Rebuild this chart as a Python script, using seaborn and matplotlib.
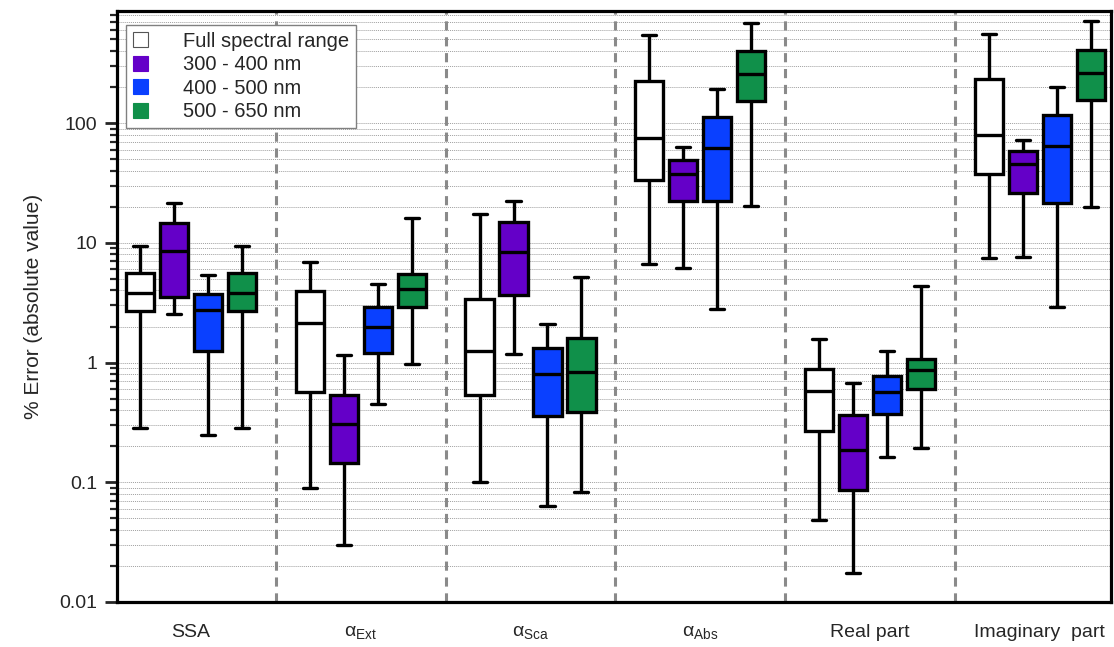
import numpy as np
import pandas as pd
import matplotlib
matplotlib.use("Agg")
import matplotlib.pyplot as plt
import seaborn as sns
from matplotlib.patches import Patch
from matplotlib.ticker import FixedLocator, FixedFormatter, LogLocator, NullFormatter

# ---------------- data ----------------
categories = ["SSA", "Ext", "Sca", "Abs", "Real part", "Imaginary  part"]
tick_labels = ["SSA", r"$\mathrm{\alpha_{Ext}}$", r"$\mathrm{\alpha_{Sca}}$",
               r"$\mathrm{\alpha_{Abs}}$", "Real part", "Imaginary  part"]
bands = ["Full spectral range", "300 - 400 nm", "400 - 500 nm", "500 - 650 nm"]
band_colors = ["#FFFFFF", "#6400C8", "#0A40FF", "#10904A"]

# each row: one category; each column: one band (Full, 300-400, 400-500, 500-650)
whisker_low = [[0.285, 2.52, 0.248, 0.285],
               [0.09, 0.03, 0.447, 0.97],
               [0.101, 1.17, 0.063, 0.0824],
               [6.72, 6.17, 2.82, 20.3],
               [0.0486, 0.0173, 0.163, 0.193],
               [7.44, 7.59, 2.91, 19.8]]
quartile1 = [[2.68, 3.55, 1.26, 2.68],
             [0.564, 0.145, 1.21, 2.93],
             [0.532, 3.67, 0.357, 0.386],
             [33.8, 22.2, 22.2, 154],
             [0.267, 0.0857, 0.369, 0.598],
             [37.9, 26.2, 21.4, 157]]
median = [[3.84, 8.5, 2.74, 3.84],
          [2.12, 0.304, 1.99, 4.12],
          [1.25, 8.4, 0.809, 0.835],
          [75, 37.7, 61.4, 255],
          [0.575, 0.187, 0.564, 0.869],
          [78.9, 45.4, 63.8, 263]]
quartile3 = [[5.57, 14.7, 3.74, 5.57],
             [3.96, 0.532, 2.91, 5.5],
             [3.39, 14.9, 1.32, 1.61],
             [227, 49.6, 113, 402],
             [0.891, 0.366, 0.778, 1.08],
             [234, 58.3, 117, 412]]
whisker_high = [[9.4, 21.6, 5.36, 9.4],
                [6.89, 1.15, 4.56, 16.0],
                [17.5, 22.2, 2.08, 5.19],
                [540, 63.4, 193, 681],
                [1.58, 0.68, 1.26, 4.36],
                [558, 72.6, 201, 708]]

y_major = [0.01, 0.1, 1, 10, 100]
y_major_labels = ["0.01", "0.1", "1", "10", "100"]

# build long table: five values per box reproduce min / quartiles / median / max
rows = []
for ci, cat in enumerate(categories):
    for bi, band in enumerate(bands):
        for stat in (whisker_low, quartile1, median, quartile3, whisker_high):
            rows.append({"category": cat, "band": band, "value": stat[ci][bi]})
df = pd.DataFrame(rows)

# ---------------- style ----------------
sns.set_style("ticks")
plt.rcParams["font.family"] = ["Liberation Sans", "DejaVu Sans"]
plt.rcParams["mathtext.fontset"] = "custom"
plt.rcParams["mathtext.rm"] = "Liberation Sans"
plt.rcParams["mathtext.it"] = "Liberation Sans:italic"
plt.rcParams["mathtext.bf"] = "Liberation Sans:bold"

fig = plt.figure(figsize=(11.14, 6.47), dpi=100)
ax = fig.add_axes([0.105, 0.0696, 0.8925, 0.913])

sns.boxplot(data=df, x="category", y="value", hue="band",
            order=categories, hue_order=bands, palette=band_colors,
            saturation=1, whis=(0, 100), width=0.8, gap=0.17,
            linewidth=2.4, linecolor="black", fliersize=0,
            log_scale=True, legend=False, ax=ax, zorder=3)

ax.set_ylim(0.01, 860)
ax.set_xlim(-0.436, 5.421)

# separators between groups
for i in range(len(categories) - 1):
    ax.axvline(i + 0.5, color="#8a8a8a", linewidth=2.2,
               linestyle=(0, (3.0, 2.2)), zorder=1)

# y ticks & grid
ax.yaxis.set_major_locator(FixedLocator(y_major))
ax.yaxis.set_major_formatter(FixedFormatter(y_major_labels))
ax.yaxis.set_minor_locator(LogLocator(base=10, subs=np.arange(2, 10)))
ax.yaxis.set_minor_formatter(NullFormatter())
ax.tick_params(axis="y", which="major", direction="out", length=9, width=2,
               labelsize=14, pad=5)
ax.tick_params(axis="y", which="minor", direction="out", length=5, width=1.6)
ax.grid(axis="y", which="both", color="#a0a0a0", linestyle=(0, (1, 1)),
        linewidth=0.7, zorder=0)
ax.set_axisbelow(True)

ax.set_xticks(range(len(categories)))
ax.set_xticklabels(tick_labels, fontsize=14)
ax.tick_params(axis="x", length=0, pad=16)

ax.set_xlabel("")
ax.set_ylabel("% Error (absolute value)", fontsize=15, labelpad=12)

for sp in ax.spines.values():
    sp.set_visible(True)
    sp.set_linewidth(2.3)
    sp.set_color("black")

handles = [Patch(facecolor=c, edgecolor=("#555555" if c == "#FFFFFF" else c),
                 linewidth=0.8) for c in band_colors]
leg = ax.legend(handles, bands, loc="upper left", bbox_to_anchor=(0.009, 0.977),
                borderaxespad=0, fontsize=14.5, frameon=True, fancybox=False,
                edgecolor="#808080", framealpha=1, handlelength=0.75,
                handleheight=0.75, handletextpad=1.75, labelspacing=0.22,
                borderpad=0.35)
leg.get_frame().set_linewidth(1.0)
leg.set_zorder(5)

fig.savefig("out.png", dpi=100, facecolor="white")
